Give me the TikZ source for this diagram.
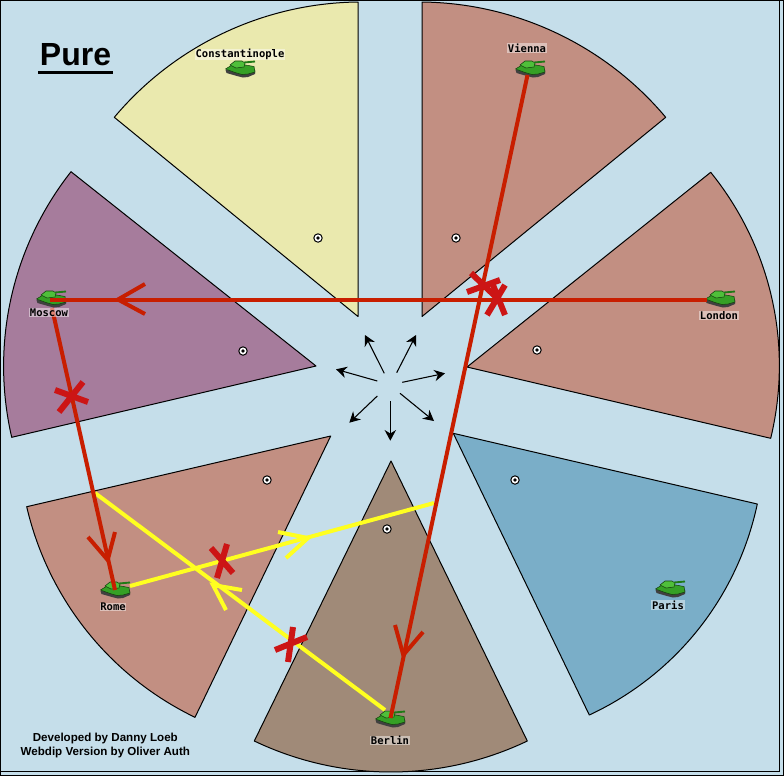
\documentclass[tikz,border=0pt]{standalone}
\usepackage{fontspec}
\setmainfont{Liberation Sans}
\newfontfamily\maplabel{DejaVu Sans Mono}[BoldFont={DejaVu Sans Mono Bold}]
\usetikzlibrary{arrows.meta,calc}
\definecolor{seabg}{HTML}{C5DEEA}
\definecolor{turkey}{HTML}{EAE9AE}
\definecolor{terra}{HTML}{C28F82}
\definecolor{russia}{HTML}{A67C9C}
\definecolor{france}{HTML}{7AAEC8}
\definecolor{germany}{HTML}{A08A78}
\definecolor{redorder}{HTML}{C81E00}
\definecolor{yelorder}{HTML}{FFFF20}
\definecolor{cutx}{HTML}{CC1515}
\definecolor{tankhull}{HTML}{35A025}
\definecolor{tankturret}{HTML}{4FBF3A}
\definecolor{tankbarrel}{HTML}{1F7A15}
\definecolor{tankedge}{HTML}{14400E}
\newcommand{\terrwedge}[5]{%
 \coordinate (wA) at (#3); \coordinate (wS) at (#4); \coordinate (wB) at (#5);
 \coordinate (wM) at ($(wA)!.5!(wB)$);
 \coordinate (wP) at ($(wM)!2.1!(wS)$);
 \draw[wedge,fill=#1] (#2) -- (wA) .. controls ($(wA)!.634!(wP)$) and ($(wB)!.634!(wP)$) .. (wB) -- cycle;}
\tikzset{
 x=0.75pt,y=-0.75pt,
 wedge/.style={draw=black,line width=0.75pt,line join=round},
 redline/.style={draw=redorder,line width=3pt},
 yelline/.style={draw=yelorder,line width=3pt},
 headred/.style={draw=redorder,line width=3pt,line join=miter},
 headyel/.style={draw=yelorder,line width=3pt,line join=miter},
 cutstroke/.style={draw=cutx,line width=4.5pt},
 retreat/.style={draw=black,line width=0.8pt,-{Stealth[length=8pt,width=8.5pt]}},
 maplbl/.style={font=\maplabel\bfseries\fontsize{7.9pt}{8pt}\selectfont,fill=white,fill opacity=.45,text opacity=1,inner xsep=.6pt,inner ysep=.3pt},
 credit/.style={font=\bfseries\fontsize{8.7pt}{10pt}\selectfont,inner sep=0pt},
 tank/.pic={
  \fill[black!75] (-14.5,1) -- (-13.5,4) -- (-3,7) -- (3,8.5) -- (8,8) -- (15,5) -- (15,1) -- cycle;
  \filldraw[fill=tankhull,draw=tankedge,line width=.4pt] (-14.5,0) -- (-8,-4) -- (0,-5) -- (14,-2.5) -- (15,3) -- (8,5) -- (2,5.5) -- (-5,3.5) -- cycle;
  \filldraw[fill=tankturret,draw=tankedge,line width=.4pt] (-10,-4) -- (-5,-8) -- (2,-8) -- (5,-6) -- (4,-2) -- (-4,-1) -- cycle;
  \draw[tankbarrel,line width=1.4pt] (4,-6.5) -- (15,-7.5);
 },
 scdot/.pic={
  \filldraw[fill=white,draw=black,line width=.75pt] (0,0) circle (4.2);
  \fill[black] (0,0) circle (1.9);
 }
}
\begin{document}
\begin{tikzpicture}
\useasboundingbox (0,0) rectangle (784,776);
\fill[seabg] (0,0) rectangle (784,776);
\draw[black,line width=.75pt] (.5,.5) rectangle (783.5,775.5);
\draw[black,line width=.75pt] (.5,771.5) -- (779.5,771.5) -- (779.5,.5);
% wedges
\terrwedge{turkey}{358,316.5}{114.3,117.3}{223.5,33}{358,2}
\terrwedge{terra}{422,316.5}{665.7,117.3}{556.5,33}{422,2}
\terrwedge{terra}{467,367}{710.7,172.3}{771.9,298.3}{770.7,438.3}
\terrwedge{russia}{316,366}{71,171.7}{11.1,297.7}{11.7,437.3}
\terrwedge{terra}{330.7,436}{26.7,506.7}{86.9,631.2}{195,717.3}
\terrwedge{germany}{391,461}{254.3,741}{390.8,772}{527.3,741}
\terrwedge{france}{453.3,433.3}{757.3,504}{698.3,629.4}{589.3,715}
% title
\node[font=\bfseries\fontsize{24pt}{24pt}\selectfont,inner sep=0pt,anchor=base] (title) at (75.5,65) {Pure};
\draw[black,line width=2.25pt] (38,72) -- (113,72);
\node[credit] (creditA) at (105.3,738.5) {Developed by Danny Loeb};
\node[credit] (creditB) at (105.3,752.5) {Webdip Version by Oliver Auth};
% supply centres
\foreach \p/\q in {318/238,456/238,537/350,243/351,267/480,515/480,387/529} \pic at (\p,\q) {scdot};
% retreat hub
\coordinate (hubA) at (384.3,373.3); \coordinate (outA) at (365,335);
\coordinate (hubB) at (396.7,372.7); \coordinate (outB) at (416,335);
\coordinate (hubC) at (377.3,381);   \coordinate (outC) at (336,369.3);
\coordinate (hubD) at (402.3,382.3); \coordinate (outD) at (445,373.3);
\coordinate (hubE) at (377.3,396);   \coordinate (outE) at (349.3,422.7);
\coordinate (hubF) at (400,393.3);   \coordinate (outF) at (434,421);
\coordinate (hubG) at (390.3,401);   \coordinate (outG) at (390.3,440.7);
\draw[retreat] (hubA) -- (outA);
\draw[retreat] (hubB) -- (outB);
\draw[retreat] (hubC) -- (outC);
\draw[retreat] (hubD) -- (outD);
\draw[retreat] (hubE) -- (outE);
\draw[retreat] (hubF) -- (outF);
\draw[retreat] (hubG) -- (outG);
% unit anchors
\coordinate (constantinople) at (240,69);
\coordinate (vienna) at (530,69);
\coordinate (moscow) at (51,299);
\coordinate (london) at (720,299);
\coordinate (rome) at (115,590);
\coordinate (paris) at (670,589);
\coordinate (berlin) at (390,719);
% yellow orders
\coordinate (romeOut) at (130,586);
\coordinate (yelEndA) at (434,503);
\coordinate (berlinOut) at (385,710);
\coordinate (yelEndB) at (95,493);
\draw[yelline] (romeOut) -- (yelEndA);
\draw[yelline] (berlinOut) -- (yelEndB);
\coordinate (ya) at (308,538); \coordinate (yaL) at (278,532); \coordinate (yaR) at (286,558);
\coordinate (yb) at (213,585); \coordinate (ybL) at (242,590); \coordinate (ybR) at (226,610);
\draw[headyel] (yaL) -- (ya) -- (yaR);
\draw[headyel] (ybL) -- (yb) -- (ybR);
% tanks
\foreach \u in {constantinople,vienna,moscow,london,rome,paris,berlin} \pic at (\u) {tank};
% red orders
\coordinate (londonOut) at (707,299.5);
\coordinate (moscowIn) at (50,299.5);
\coordinate (viennaOut) at (527.5,75);
\coordinate (berlinIn) at (390.5,718);
\coordinate (moscowOut) at (52,308);
\coordinate (romeIn) at (115,590);
\draw[redline] (londonOut) -- (moscowIn);
\draw[redline] (viennaOut) -- (berlinIn);
\draw[redline] (moscowOut) -- (romeIn);
\coordinate (ra) at (118,299.5); \coordinate (raL) at (145,284); \coordinate (raR) at (145,314);
\coordinate (rb) at (403.3,655); \coordinate (rbL) at (395,625); \coordinate (rbR) at (423,632);
\coordinate (rc) at (107.7,560); \coordinate (rcL) at (88,537); \coordinate (rcR) at (115,532);
\draw[headred] (raL) -- (ra) -- (raR);
\draw[headred] (rbL) -- (rb) -- (rbR);
\draw[headred] (rcL) -- (rc) -- (rcR);
% cut marks
\draw[cutstroke] (505,285) -- (487,315) (493,285) -- (505,315);
\draw[cutstroke] (471,273) -- (497,298) (467,292) -- (500,280);
\draw[cutstroke] (83,382) -- (59,412) (55,390) -- (88,402);
\draw[cutstroke] (227,544) -- (217,578) (211,548) -- (233,573);
\draw[cutstroke] (293,627) -- (288,662) (275,650) -- (307,637);
% labels
\node[maplbl] (lblC) at (240,54.5) {Constantinople};
\node[maplbl] (lblV) at (527,48) {Vienna};
\node[maplbl] (lblM) at (49,312.5) {Moscow};
\node[maplbl] (lblL) at (719,315.5) {London};
\node[maplbl] (lblR) at (113,607) {Rome};
\node[maplbl] (lblP) at (668,605) {Paris};
\node[maplbl] (lblB) at (390,740.5) {Berlin};
\end{tikzpicture}
\end{document}
